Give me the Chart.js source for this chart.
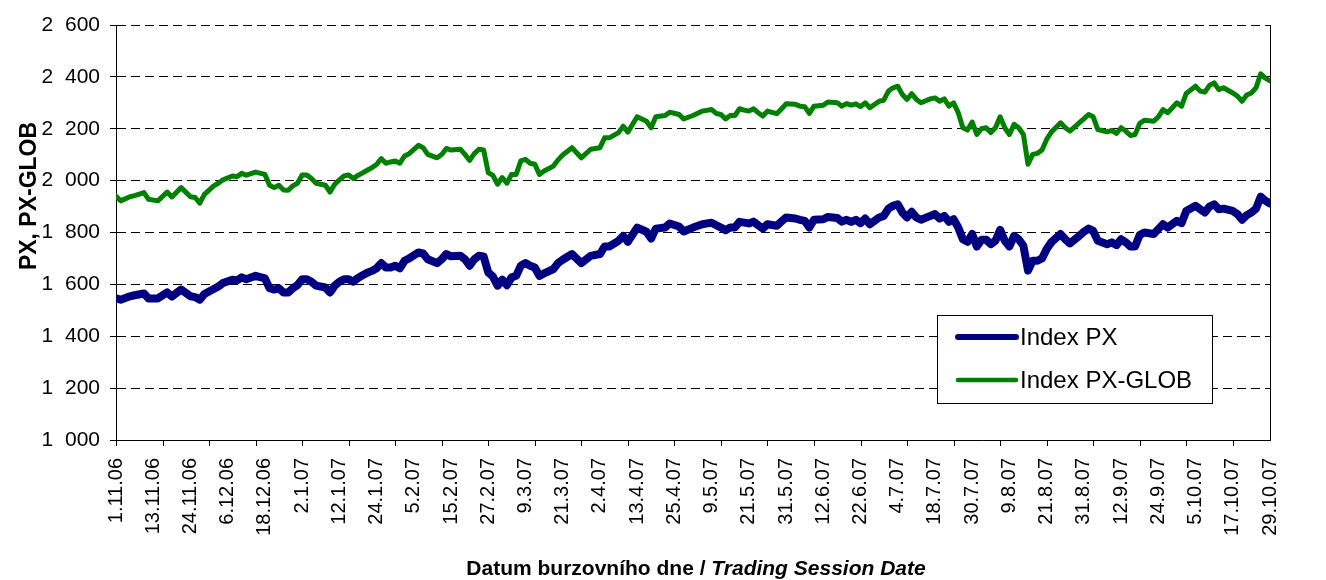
<!DOCTYPE html>
<html>
<head>
<meta charset="utf-8">
<script src="https://cdn.jsdelivr.net/npm/chart.js@4.4.1/dist/chart.umd.min.js"></script>
<style>
  body { margin: 0; background: #fff; }
  canvas { display: block; }
</style>
</head>
<body>
<canvas id="indexChart" width="1326" height="580"></canvas>
<script>
// Trading day index (0 = 1.11.06, 248 = 29.10.07).
var days = [
  0, 1, 3, 4, 6, 7, 9, 11, 12, 14, 16, 17, 18, 19, 21, 22, 23, 25, 26, 27, 28, 30,
  32, 33, 34, 35, 36, 37, 38, 39, 40, 41, 42, 43, 45, 46, 47, 48, 49, 50, 51, 52, 53, 54, 55, 56, 57, 58, 59, 60, 61, 62, 63,
  65, 66, 67, 69, 70, 71, 72, 74, 75, 76, 77, 78, 79, 80, 81, 82, 83, 84, 85, 86, 87, 88, 89, 90, 91, 92, 94, 95,
  96, 98, 100, 102, 104, 105, 106, 108, 109, 110, 112, 114, 115, 116, 118, 119, 121, 122, 124,
  126, 128, 129, 130, 131, 132, 133, 134, 135, 136, 137, 138, 139, 140, 142, 143, 144, 146, 147, 148, 149, 150, 152, 153, 155, 156, 157,
  158, 159, 160, 161, 162, 164, 165, 166, 167, 168, 169, 170, 171, 172, 173, 175, 176, 177, 178, 179, 180, 181, 182, 183, 184, 185, 186, 187, 188,
  189, 190, 191, 192, 193, 194, 195, 196, 197, 198, 199, 200, 201, 203, 204, 205, 207, 208, 209, 210, 211, 213, 214, 215, 216, 217, 218, 219, 220,
  221, 223, 224, 225, 226, 228, 229, 230, 232, 233, 234, 235, 236, 237, 238, 240, 241, 242, 243, 244, 245, 246, 247, 248
];

var pxValues = [
  1546, 1541, 1554, 1558, 1565, 1546, 1546, 1569, 1553, 1580, 1554, 1551, 1541, 1563, 1582, 1592, 1605, 1618, 1615, 1627, 1620, 1633,
  1623, 1585, 1580, 1585, 1569, 1569, 1585, 1597, 1620, 1620, 1610, 1595, 1588, 1569, 1595, 1610, 1620, 1620, 1610, 1625, 1635, 1645, 1652, 1662, 1682, 1665, 1665, 1672, 1662, 1691, 1700,
  1723, 1719, 1697, 1682, 1697, 1717, 1708, 1710, 1697, 1672, 1697, 1710, 1708, 1646, 1630, 1595, 1618, 1597, 1627, 1633, 1672, 1682, 1672, 1665, 1633, 1642, 1659, 1682,
  1695, 1717, 1682, 1710, 1717, 1746, 1746, 1768, 1787, 1764, 1819, 1803, 1777, 1815, 1819, 1835, 1823, 1804, 1819,
  1832, 1838, 1828, 1819, 1809, 1819, 1819, 1841, 1838, 1835, 1842, 1828, 1815, 1832, 1826, 1842, 1858, 1854, 1849, 1845, 1819, 1849, 1851, 1860, 1856, 1842, 1849,
  1841, 1849, 1836, 1854, 1832, 1858, 1864, 1892, 1903, 1909, 1877, 1858, 1880, 1858, 1849, 1864, 1871, 1854, 1864, 1841, 1851, 1819, 1774, 1764, 1794, 1746, 1772, 1772, 1755,
  1768, 1810, 1768, 1746, 1787, 1774, 1749, 1653, 1691, 1691, 1700, 1736, 1762, 1794, 1774, 1758, 1787, 1803, 1815, 1806, 1768, 1755, 1762, 1751, 1774, 1762, 1746, 1746, 1790,
  1800, 1794, 1813, 1832, 1819, 1845, 1836, 1883, 1903, 1890, 1877, 1900, 1909, 1890, 1892, 1883, 1871, 1849, 1867, 1877, 1892, 1938, 1922, 1912
];

var globValues = [
  1940, 1922, 1938, 1942, 1954, 1928, 1922, 1956, 1937, 1973, 1938, 1935, 1913, 1947, 1980, 1990, 2003, 2018, 2015, 2028, 2021, 2033,
  2024, 1982, 1973, 1982, 1964, 1963, 1980, 1990, 2022, 2022, 2008, 1990, 1982, 1956, 1986, 2003, 2018, 2022, 2008, 2020, 2030, 2040, 2050, 2062, 2085, 2067, 2072, 2076, 2067, 2095, 2104,
  2136, 2127, 2101, 2088, 2101, 2124, 2118, 2121, 2101, 2078, 2104, 2121, 2118, 2031, 2020, 1986, 2012, 1990, 2024, 2024, 2076, 2082, 2067, 2063, 2024, 2037, 2056, 2080,
  2099, 2127, 2088, 2121, 2127, 2165, 2165, 2185, 2210, 2187, 2246, 2229, 2204, 2246, 2251, 2264, 2255, 2238, 2251,
  2268, 2274, 2259, 2255, 2238, 2251, 2251, 2277, 2272, 2268, 2277, 2262, 2249, 2268, 2258, 2276, 2296, 2294, 2287, 2285, 2259, 2287, 2291, 2303, 2300, 2287, 2297,
  2291, 2296, 2285, 2300, 2281, 2306, 2310, 2345, 2358, 2364, 2332, 2313, 2335, 2313, 2300, 2315, 2319, 2306, 2315, 2287, 2300, 2262, 2204, 2195, 2226, 2178, 2200, 2204, 2185,
  2204, 2246, 2204, 2178, 2217, 2204, 2178, 2063, 2101, 2105, 2118, 2159, 2187, 2223, 2204, 2191, 2223, 2238, 2255, 2246, 2197, 2188, 2194, 2182, 2204, 2191, 2174, 2178, 2220,
  2233, 2229, 2246, 2274, 2262, 2300, 2287, 2336, 2364, 2345, 2341, 2367, 2377, 2351, 2358, 2338, 2326, 2306, 2330, 2338, 2358, 2412, 2395, 2385
];

// One label every 8 trading days, tick marks every 10.
var dateLabels = [
  '1.11.06', '13.11.06', '24.11.06', '6.12.06', '18.12.06', '2.1.07', '12.1.07', '24.1.07',
  '5.2.07', '15.2.07', '27.2.07', '9.3.07', '21.3.07', '2.4.07', '13.4.07', '25.4.07',
  '9.5.07', '21.5.07', '31.5.07', '12.6.07', '22.6.07', '4.7.07', '18.7.07', '30.7.07',
  '9.8.07', '21.8.07', '31.8.07', '12.9.07', '24.9.07', '5.10.07', '17.10.07', '29.10.07'
];
var labelStep = 8;
var tickMarkStep = 10;
var lastDay = 248;

var seriesNames = ['Index PX', 'Index PX-GLOB'];
var yTitle = 'PX, PX-GLOB';
var xTitleMain = 'Datum burzovního dne / ';
var xTitleItalic = 'Trading Session Date';

var FONT = '"Liberation Sans", Arial, sans-serif';

function toPoints(values) {
  return values.map(function (v, i) {
    return { x: days[i], y: v };
  });
}

// Thousands separated by a digit-wide space, as in the original.
function formatThousands(v) {
  return String(v).replace(/\B(?=(\d{3})+(?!\d))/g, '\u2007');
}

// Extras: x tick marks, right frame line, axis titles and the boxed legend.
var extrasPlugin = {
  id: 'extras',
  afterDraw: function (chart) {
    var ctx = chart.ctx;
    var area = chart.chartArea;
    var xScale = chart.scales.x;

    ctx.save();
    ctx.strokeStyle = '#000';
    ctx.lineWidth = 1;

    // Right edge of the plot area.
    ctx.beginPath();
    ctx.moveTo(Math.round(area.right) + 0.5, area.top);
    ctx.lineTo(Math.round(area.right) + 0.5, area.bottom);
    ctx.stroke();

    // Tick marks under the x axis.
    for (var d = 0; d <= lastDay; d += tickMarkStep) {
      var px = Math.round(xScale.getPixelForValue(d)) + 0.5;
      ctx.beginPath();
      ctx.moveTo(px, area.bottom);
      ctx.lineTo(px, area.bottom + 6);
      ctx.stroke();
    }

    // Y title.
    ctx.fillStyle = '#000';
    ctx.save();
    ctx.translate(30, 196);
    ctx.rotate(-Math.PI / 2);
    ctx.font = 'bold 23px ' + FONT;
    ctx.textAlign = 'center';
    ctx.textBaseline = 'middle';
    ctx.fillText(yTitle, 0, 0);
    ctx.restore();

    // X title, second part in italics.
    ctx.textBaseline = 'middle';
    ctx.textAlign = 'left';
    ctx.font = 'bold 21px ' + FONT;
    var w1 = ctx.measureText(xTitleMain).width;
    ctx.font = 'bold italic 21px ' + FONT;
    var w2 = ctx.measureText(xTitleItalic).width;
    var startX = (area.left + area.right) / 2 + 3 - (w1 + w2) / 2;
    ctx.font = 'bold 21px ' + FONT;
    ctx.fillText(xTitleMain, startX, 569);
    ctx.font = 'bold italic 21px ' + FONT;
    ctx.fillText(xTitleItalic, startX + w1, 569);

    // Legend box.
    var boxLeft = area.right - 333;
    var boxTop = area.top + 290;
    var boxW = 275;
    var boxH = 88;
    ctx.fillStyle = '#fff';
    ctx.fillRect(boxLeft, boxTop, boxW, boxH);
    ctx.strokeStyle = '#000';
    ctx.lineWidth = 1;
    ctx.strokeRect(Math.round(boxLeft) + 0.5, Math.round(boxTop) + 0.5, boxW, boxH);

    var rows = [boxTop + 22, boxTop + 65];
    chart.data.datasets.forEach(function (ds, i) {
      ctx.strokeStyle = ds.borderColor;
      ctx.lineWidth = i === 0 ? 6 : 4.5;
      ctx.lineCap = 'round';
      ctx.beginPath();
      ctx.moveTo(boxLeft + 21, rows[i]);
      ctx.lineTo(boxLeft + 79, rows[i]);
      ctx.stroke();
      ctx.fillStyle = '#000';
      ctx.font = '24px ' + FONT;
      ctx.textAlign = 'left';
      ctx.textBaseline = 'middle';
      ctx.fillText(ds.label, boxLeft + 83, rows[i] + 1);
    });
    ctx.restore();
  }
};

var ctx = document.getElementById('indexChart').getContext('2d');
var chart = new Chart(ctx, {
  type: 'line',
  data: {
    datasets: [{
      label: seriesNames[0],
      data: toPoints(pxValues),
      borderColor: '#000080',
      borderWidth: 8,
      pointRadius: 0,
      tension: 0,
      borderJoinStyle: 'round',
      borderCapStyle: 'round'
    }, {
      label: seriesNames[1],
      data: toPoints(globValues),
      borderColor: '#008000',
      borderWidth: 5,
      pointRadius: 0,
      tension: 0,
      borderJoinStyle: 'round',
      borderCapStyle: 'round'
    }]
  },
  options: {
    responsive: false,
    animation: false,
    layout: { padding: { top: 25, right: 56, left: 0, bottom: 0 } },
    plugins: {
      legend: { display: false },
      tooltip: { enabled: false }
    },
    scales: {
      x: {
        type: 'linear',
        min: 0,
        max: lastDay,
        grid: { display: false, drawTicks: false },
        border: { display: true, color: '#000', width: 1 },
        afterBuildTicks: function (scale) {
          scale.ticks = dateLabels.map(function (l, i) {
            return { value: i * labelStep };
          });
        },
        afterFit: function (scale) {
          scale.height = 140;
        },
        ticks: {
          autoSkip: false,
          minRotation: 90,
          maxRotation: 90,
          padding: 18,
          color: '#000',
          font: { family: FONT, size: 20 },
          callback: function (value, index) {
            return dateLabels[index];
          }
        }
      },
      y: {
        min: 1000,
        max: 2600,
        afterFit: function (scale) {
          scale.width = 116;
        },
        grid: {
          color: '#000',
          lineWidth: 1,
          drawTicks: true,
          tickLength: 6,
          tickColor: '#000',
          tickBorderDash: []
        },
        border: { display: true, color: '#000', width: 1, dash: [9, 5] },
        ticks: {
          stepSize: 200,
          padding: 10,
          color: '#000',
          font: { family: FONT, size: 21 },
          callback: function (value) {
            return formatThousands(value);
          }
        }
      }
    }
  },
  plugins: [extrasPlugin]
});
</script>
</body>
</html>
